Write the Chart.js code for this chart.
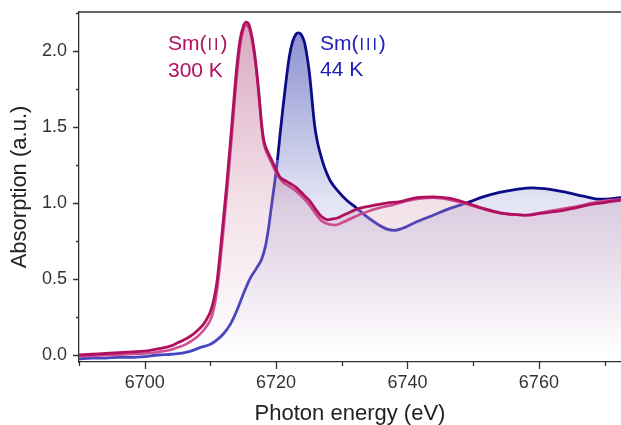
<!DOCTYPE html>
<html><head><meta charset="utf-8">
<script src="https://cdn.jsdelivr.net/npm/chart.js@4.4.1/dist/chart.umd.min.js"></script>
<style>html,body{margin:0;padding:0;background:#fff;}canvas{display:block;}</style>
</head><body>
<canvas id="c" width="621" height="425"></canvas>
<script>
// Sm(II) 300 K (dark magenta)
const energySm2 = [6690,6692,6694,6696,6698,6700,6702,6704,6705,6706,6707,6708,6709,6709.5,6710,6710.5,6711,6711.5,6712,6712.5,6713,6713.5,6714,6714.5,6715,6715.4,6715.8,6716.3,6716.8,6717.3,6717.8,6718.1,6718.4,6718.8,6719.3,6719.8,6720.6,6721.5,6722.1,6723,6723.6,6724.3,6725.2,6726,6726.7,6727.3,6727.8,6728.5,6729.2,6730,6731,6732.3,6734.3,6736.8,6738.9,6741.4,6743.9,6746.5,6749,6751.5,6754.1,6756,6758.1,6760,6761.7,6763.5,6765.2,6767.2,6769.3,6772.5];
const absSm2 = [0.0,0.005,0.01,0.015,0.02,0.025,0.04,0.06,0.08,0.10,0.125,0.16,0.205,0.24,0.285,0.36,0.48,0.68,0.90,1.13,1.38,1.64,1.89,2.07,2.16,2.19,2.18,2.10,1.96,1.76,1.52,1.42,1.37,1.33,1.285,1.24,1.17,1.145,1.13,1.105,1.08,1.05,1.01,0.96,0.92,0.90,0.89,0.895,0.90,0.915,0.935,0.96,0.98,1.0,1.01,1.035,1.04,1.03,1.0,0.965,0.935,0.925,0.92,0.93,0.94,0.95,0.965,0.985,1.0,1.02];
// second Sm(II) trace (light pink)
const energySm2b = [6690,6695,6700,6702,6704,6705,6706,6707,6708,6709,6710,6710.5,6711,6711.5,6712,6712.5,6713,6713.5,6714,6714.5,6715,6715.4,6715.8,6716.3,6716.8,6717.3,6717.8,6718.1,6718.4,6718.8,6719.3,6720,6721,6722,6723,6724,6725,6726,6727,6728,6729,6730,6731,6732,6734,6736,6738,6740,6742,6744,6746,6748,6750,6752,6754,6756,6758,6760,6762,6764,6766,6768,6770,6772.5];
const absSm2b = [-0.01,0.0,0.01,0.02,0.035,0.05,0.065,0.09,0.12,0.165,0.23,0.30,0.42,0.61,0.83,1.06,1.31,1.57,1.83,2.03,2.14,2.17,2.16,2.08,1.94,1.74,1.50,1.40,1.35,1.31,1.265,1.20,1.14,1.11,1.08,1.04,0.99,0.93,0.88,0.86,0.855,0.87,0.89,0.91,0.945,0.97,0.99,1.015,1.03,1.035,1.025,1.005,0.98,0.955,0.935,0.925,0.92,0.935,0.95,0.965,0.98,1.0,1.015,1.025];
// Sm(III) 44 K (dark blue)
const energySm3 = [6690,6692,6694,6696,6698,6700,6702,6704,6705.5,6707,6708.5,6710,6711,6712,6713,6714,6715,6716,6717,6717.8,6718.4,6718.8,6719.3,6719.8,6720.2,6720.6,6721,6721.4,6722,6722.5,6723,6723.4,6723.8,6724.3,6724.7,6725,6725.3,6725.6,6725.9,6726.3,6726.7,6727.4,6728.2,6729.2,6730.7,6732.3,6733.8,6735.3,6736.8,6738,6739,6741.4,6743.9,6746.5,6749,6751.5,6754,6756.6,6759,6761.7,6764.2,6766.8,6769.3,6772.5];
const absSm3 = [-0.025,-0.02,-0.02,-0.015,-0.015,-0.01,0.0,0.005,0.01,0.025,0.05,0.07,0.10,0.14,0.20,0.29,0.40,0.50,0.57,0.63,0.72,0.82,0.98,1.14,1.28,1.45,1.61,1.76,1.96,2.06,2.11,2.12,2.11,2.06,1.97,1.88,1.76,1.62,1.50,1.40,1.33,1.23,1.15,1.09,1.02,0.965,0.91,0.865,0.83,0.82,0.83,0.877,0.92,0.965,1.0,1.04,1.07,1.09,1.10,1.09,1.07,1.045,1.025,1.035];

const xTickLabels = [6700, 6720, 6740, 6760];
const yTickLabels = [0.0, 0.5, 1.0, 1.5, 2.0];
const xTitle = 'Photon energy (eV)';
const yTitle = 'Absorption (a.u.)';
const sm2Label = ['Sm(', 'II', ')', '300 K'];
const sm3Label = ['Sm(', 'III', ')', '44 K'];

const FONT = "'Liberation Sans', Arial, sans-serif";
const MAGENTA = 'rgb(176,16,96)';
const PINK = 'rgb(208,80,145)';
const NAVY = 'rgb(12,12,135)';
const BLUE_LIGHT = 'rgb(70,72,195)';

function pts(xs, ys){ return xs.map((x,i)=>({x:x, y:ys[i]})); }
function interp(xs, ys, x){
  if (x <= xs[0]) return ys[0];
  for (let i=1;i<xs.length;i++){
    if (x <= xs[i]){ const t=(x-xs[i-1])/(xs[i]-xs[i-1]); return ys[i-1]+t*(ys[i]-ys[i-1]); }
  }
  return ys[ys.length-1];
}
function vGrad(chart, stops){
  const {ctx, chartArea, scales} = chart;
  if (!chartArea) return 'rgba(0,0,0,0)';
  const y = scales.y;
  const g = ctx.createLinearGradient(0, y.getPixelForValue(2.2), 0, y.getPixelForValue(0));
  stops.forEach(s=>g.addColorStop(s[0], s[1]));
  return g;
}

const decorPlugin = {
  id: 'decor',
  afterDraw(chart){
    const {ctx, chartArea, scales:{x, y}} = chart;
    ctx.save();
    ctx.strokeStyle = '#333'; ctx.lineWidth = 1.3;
    ctx.beginPath();
    ctx.moveTo(chartArea.left, chartArea.top); ctx.lineTo(chartArea.right, chartArea.top);
    y.ticks.forEach(t=>{
      const p = Math.round(y.getPixelForValue(t.value))+0.5;
      const major = yTickLabels.some(v=>Math.abs(v-t.value)<1e-6);
      const len = major ? 6 : 3;
      ctx.moveTo(chartArea.left-len, p); ctx.lineTo(chartArea.left, p);
    });
    x.ticks.forEach(t=>{
      const p = Math.round(x.getPixelForValue(t.value))+0.5;
      const major = xTickLabels.includes(t.value);
      const len = major ? 7 : 4;
      ctx.moveTo(p, chartArea.bottom); ctx.lineTo(p, chartArea.bottom+len);
    });
    ctx.stroke();
    function label(parts, color, x0, b1, b2){
      ctx.fillStyle = color; ctx.textBaseline = 'alphabetic'; ctx.textAlign = 'left';
      ctx.font = '21px ' + FONT;
      let xx = x0;
      ctx.fillText(parts[0], xx, b1); xx += ctx.measureText(parts[0]).width;
      ctx.font = '16px ' + FONT; ctx.letterSpacing = '2px';
      xx += 1;
      ctx.fillText(parts[1], xx, b1); xx += ctx.measureText(parts[1]).width;
      ctx.letterSpacing = '0px';
      ctx.font = '21px ' + FONT;
      ctx.fillText(parts[2], xx, b1);
      ctx.fillText(parts[3], x0, b2);
    }
    label(sm2Label, MAGENTA, 168, 50, 77);
    label(sm3Label, 'rgb(32,32,185)', 320, 50, 76);
    ctx.restore();
  }
};

new Chart(document.getElementById('c'), {
  type: 'line',
  data: {
    datasets: [
      {
        label: 'Sm(II) 300 K', data: pts(energySm2, absSm2),
        borderColor: MAGENTA, borderWidth: 2.8, pointRadius: 0,
        cubicInterpolationMode: 'monotone', fill: 'origin',
        backgroundColor: c => vGrad(c.chart, [[0,'rgba(165,35,95,0.40)'],[0.55,'rgba(165,45,100,0.14)'],[1,'rgba(165,45,100,0.0)']])
      },
      {
        label: 'Sm(II) b', data: pts(energySm2b, absSm2b),
        borderColor: PINK, borderWidth: 2.6, pointRadius: 0,
        cubicInterpolationMode: 'monotone', fill: false
      },
      {
        label: 'Sm(III) 44 K', data: pts(energySm3, absSm3),
        borderColor: NAVY, borderWidth: 2.8, pointRadius: 0,
        cubicInterpolationMode: 'monotone', fill: false,
        segment: {
          borderColor: s => {
            const xm = (s.p0.parsed.x + s.p1.parsed.x)/2, ym = (s.p0.parsed.y + s.p1.parsed.y)/2;
            return ym < interp(energySm2, absSm2, xm) ? BLUE_LIGHT : NAVY;
          }
        }
      },
      {
        label: 'Sm(III) fill', data: pts(energySm3, absSm3),
        borderWidth: 0, borderColor: 'rgba(0,0,0,0)', pointRadius: 0,
        cubicInterpolationMode: 'monotone', fill: 'origin',
        backgroundColor: c => vGrad(c.chart, [[0,'rgba(35,45,165,0.55)'],[0.55,'rgba(35,45,165,0.12)'],[1,'rgba(35,45,165,0.0)']])
      }
    ]
  },
  options: {
    responsive: false, animation: false, devicePixelRatio: 1,
    layout: { padding: { top: 12, right: 0, bottom: 0, left: 0 } },
    plugins: { legend: { display: false }, tooltip: { enabled: false }, filler: { drawTime: 'beforeDatasetDraw' } },
    scales: {
      x: {
        type: 'linear', min: 6690, max: 6772.5,
        afterFit: s => { s.height = 63; s.paddingLeft = 0; s.paddingRight = 0; },
        ticks: { stepSize: 10, includeBounds: false, padding: 10, maxRotation: 0, autoSkip: false, color: '#333',
          font: { family: FONT, size: 18 },
          callback: v => xTickLabels.includes(v) ? String(v) : '' },
        grid: { display: true, drawOnChartArea: false, drawTicks: false },
        border: { display: true, color: '#333', width: 1.3 },
        title: { display: true, text: xTitle, color: '#222', font: { family: FONT, size: 22, lineHeight: 1 }, padding: { top: 0, bottom: 0 } }
      },
      y: {
        type: 'linear', min: -0.046, max: 2.257,
        afterFit: s => { s.width = 79; s.paddingTop = 0; s.paddingBottom = 0; },
        ticks: { stepSize: 0.25, includeBounds: false, padding: 12, autoSkip: false, color: '#333',
          font: { family: FONT, size: 18 },
          callback: v => yTickLabels.some(t=>Math.abs(t-v)<1e-6) ? v.toFixed(1) : '' },
        grid: { display: true, drawOnChartArea: false, drawTicks: false },
        border: { display: true, color: '#333', width: 1.3 },
        title: { display: true, text: yTitle, color: '#222', font: { family: FONT, size: 22, lineHeight: 1 }, padding: { top: 9, bottom: 0 } }
      }
    }
  },
  plugins: [decorPlugin]
});
</script>
</body></html>
